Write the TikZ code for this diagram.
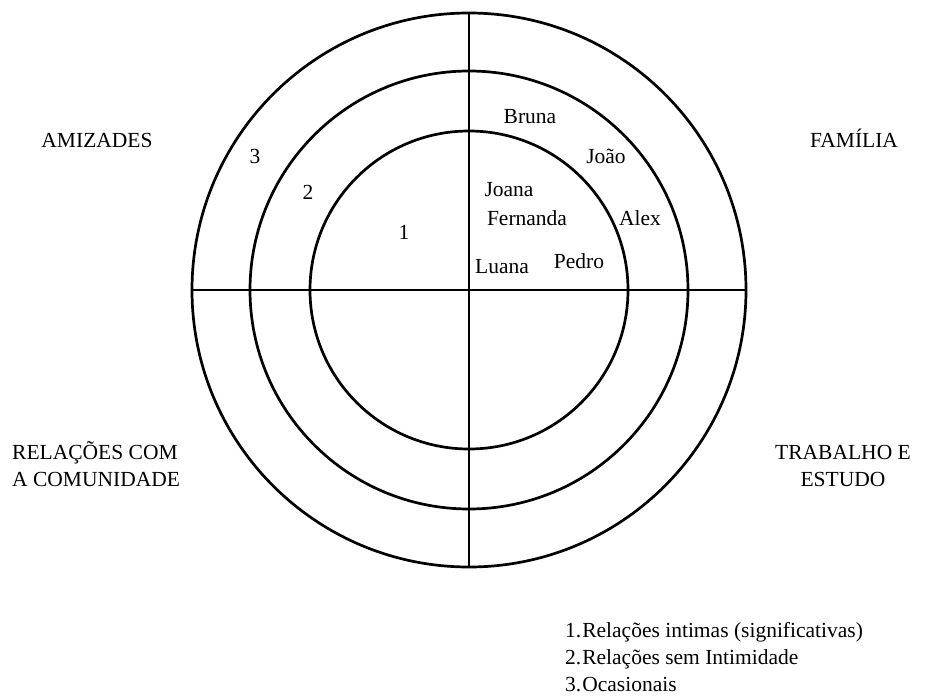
\documentclass[tikz,border=0pt]{standalone}
\usepackage{fontspec}
\setmainfont{Liberation Serif}
\begin{document}
\begin{tikzpicture}[x=1pt,y=-1pt,
  ring/.style={line width=2.7pt},
  lbl/.style={inner sep=0pt,yshift=-4pt,font=\fontsize{21.5}{27}\selectfont,text height=0.68em,text depth=0.2em},
  cat/.style={lbl,align=center},
  leg/.style={lbl,anchor=west}]
\useasboundingbox (0,0) rectangle (925,698);
\coordinate (c) at (469,290);
\draw[ring] (c) circle[radius=159];
\draw[ring] (c) circle[radius=219];
\draw[ring] (c) circle[radius=277];
\draw[ring] (192,290) -- (746,290);
\draw[ring] (469,13) -- (469,567);
% category labels
\node[cat] (amiz) at (97,141) {AMIZADES};
\node[cat] (fam) at (854,141) {FAMÍLIA};
\node[lbl,align=left,anchor=west] (com) at (12,480) {RELAÇÕES COM\\A COMUNIDADE};
\node[cat] (trab) at (843,480) {TRABALHO E\\ESTUDO};
% ring numbers
\node[lbl] (n3) at (255,157) {3};
\node[lbl] (n2) at (308,193) {2};
\node[lbl] (n1) at (404,233) {1};
% names
\node[lbl] (bruna) at (530,117) {Bruna};
\node[lbl] (joao) at (606,157) {João};
\node[lbl] (joana) at (509,190) {Joana};
\node[lbl] (fern) at (527,219) {Fernanda};
\node[lbl] (alex) at (640,219) {Alex};
\node[lbl] (pedro) at (579,262) {Pedro};
\node[lbl] (luana) at (502,267) {Luana};
% legend
\node[leg] (l1) at (565,631) {1.\kern1pt Relações intimas (significativas)};
\node[leg] (l2) at (565,658) {2.\kern1pt Relações sem Intimidade};
\node[leg] (l3) at (565,685) {3.\kern1pt Ocasionais};
\end{tikzpicture}
\end{document}
